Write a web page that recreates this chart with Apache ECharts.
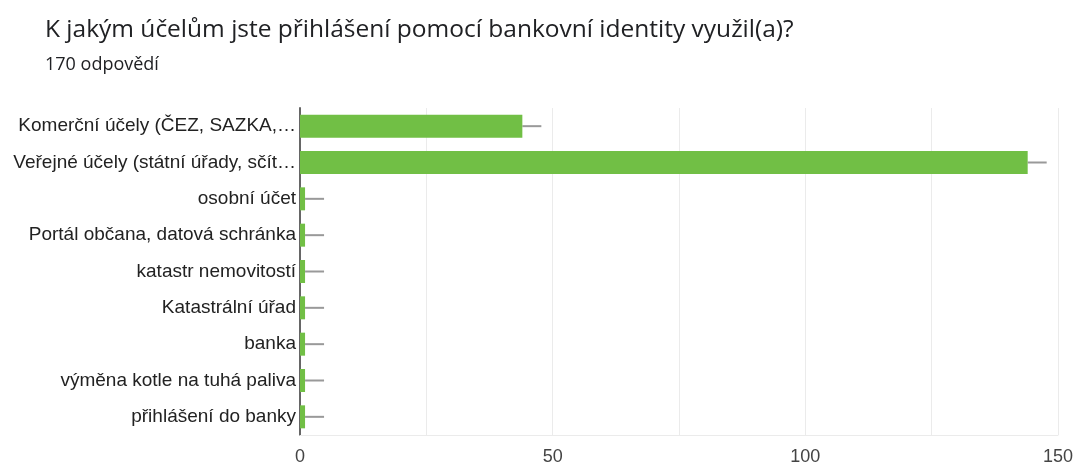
<!DOCTYPE html>
<html>
<head>
<meta charset="utf-8">
<script src="https://cdn.jsdelivr.net/npm/echarts@6/dist/echarts.min.js"></script>
<style>
  html, body { margin: 0; padding: 0; background: #fff; }
  #chart { width: 1077px; height: 462px; }
</style>
</head>
<body>
<div id="chart"></div>
<script>
// kategorie odpovědí (zkrácené jako v originále)
const categories = [
  'Komerční účely (ČEZ, SAZKA,…',
  'Veřejné účely (státní úřady, sčít…',
  'osobní účet',
  'Portál občana, datová schránka',
  'katastr nemovitostí',
  'Katastrální úřad',
  'banka',
  'výměna kotle na tuhá paliva',
  'přihlášení do banky'
];
const counts = [44, 144, 1, 1, 1, 1, 1, 1, 1];
const xTicks = [0, 50, 100, 150];

const chart = echarts.init(document.getElementById('chart'));

// šedé "vousy" za koncem sloupce
const whiskerData = counts.map((v, i) => [v, i]);

const option = {
  animation: false,
  title: [
    {
      text: 'K jakým účelům jste přihlášení pomocí bankovní identity využil(a)?',
      left: 40, top: 13,
      textStyle: { fontFamily: 'Open Sans', fontSize: 24.5, fontWeight: 'normal', color: '#202124' }
    },
    {
      text: '170 odpovědí',
      left: 40, top: 51,
      textStyle: { fontFamily: 'Open Sans', fontSize: 18, fontWeight: 'normal', color: '#202124' }
    }
  ],
  grid: { left: 300, right: 19, top: 108, bottom: 27, containLabel: false, outerBoundsMode: 'none' },
  xAxis: {
    type: 'value',
    min: 0, max: 150, interval: 25,
    axisLine: { show: true, lineStyle: { color: '#ebebeb', width: 1 } },
    axisTick: { show: false },
    splitLine: { show: true, lineStyle: { color: '#ebebeb', width: 1 } },
    axisLabel: {
      margin: 13,
      fontFamily: 'Liberation Sans', fontSize: 18, color: '#444',
      formatter: v => (xTicks.indexOf(v) > -1 ? String(v) : '')
    }
  },
  yAxis: {
    type: 'category',
    data: categories,
    inverse: true,
    axisLine: { show: true, lineStyle: { color: '#666', width: 2 } },
    axisTick: { show: false },
    axisLabel: { margin: 4, fontFamily: 'Liberation Sans', fontSize: 19, color: '#222' }
  },
  series: [
    {
      type: 'bar',
      data: counts,
      barWidth: 23,
      itemStyle: { color: '#71bf45' },
      z: 2
    },
    {
      type: 'custom',
      data: whiskerData,
      z: 1,
      renderItem: (params, api) => {
        const p = api.coord([api.value(0), api.value(1)]);
        return {
          type: 'line',
          shape: { x1: p[0], y1: p[1], x2: p[0] + 19, y2: p[1] },
          style: { stroke: '#999', lineWidth: 2 }
        };
      },
      encode: { x: 0, y: 1 }
    }
  ]
};

chart.setOption(option);
</script>
</body>
</html>
